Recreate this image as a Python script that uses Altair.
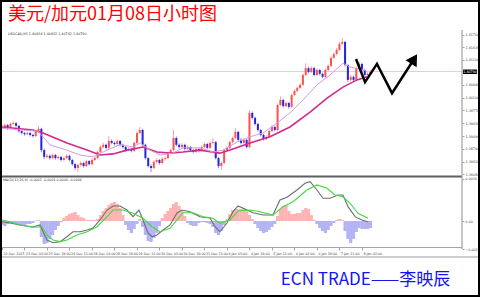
import json
import altair as alt
import pandas as pd

# ---------------- data ----------------
title_text = "美元/加元01月08日小时图"
footer_text = "ECN TRADE——李映辰"
info_main = "USDCAD,H1  1.40834 1.40832 1.40742 1.40790"
info_macd = "MACD(12,26,9) -0.0002 -0.0001 0.0000 -0.0006"

first_open = 1.3930
closes = [
    1.3933, 1.3938, 1.3930, 1.3941, 1.3943, 1.3936, 1.3922, 1.3917, 1.3914, 1.3917,
    1.3912, 1.3909, 1.3920, 1.3928, 1.3872, 1.3854, 1.3857, 1.3851, 1.3859, 1.3851,
    1.3854, 1.3846, 1.3851, 1.3857, 1.3846, 1.3835, 1.3825, 1.3833, 1.3838, 1.3830,
    1.3843, 1.3835, 1.3846, 1.3851, 1.3867, 1.3880, 1.3886, 1.3878, 1.3896, 1.3891,
    1.3888, 1.3896, 1.3886, 1.3880, 1.3872, 1.3875, 1.3870, 1.3891, 1.3917, 1.3925,
    1.3886, 1.3851, 1.3830, 1.3825, 1.3841, 1.3846, 1.3838, 1.3849, 1.3851, 1.3864,
    1.3872, 1.3904, 1.3886, 1.3880, 1.3886, 1.3875, 1.3880, 1.3872, 1.3867, 1.3875,
    1.3870, 1.3880, 1.3888, 1.3878, 1.3891, 1.3893, 1.3851, 1.3830, 1.3838, 1.3872,
    1.3878, 1.3893, 1.3904, 1.3920, 1.3899, 1.3891, 1.3899, 1.3880, 1.3970, 1.3957,
    1.3941, 1.3925, 1.3912, 1.3901, 1.3907, 1.3922, 1.3933, 1.3925, 1.3991, 1.4004,
    1.3988, 1.3996, 1.3986, 1.4017, 1.4028, 1.4036, 1.4044, 1.4070, 1.4088, 1.4078,
    1.4088, 1.4070, 1.4083, 1.4073, 1.4065, 1.4083, 1.4094, 1.4115, 1.4125, 1.4136,
    1.4152, 1.4157, 1.4096, 1.4057, 1.4065, 1.4057, 1.4088, 1.4099, 1.4083, 1.4070,
    1.4073, 1.4078]
highs = [
    1.3938, 1.3942, 1.3941, 1.3945, 1.3949, 1.3946, 1.3938, 1.3925, 1.3920, 1.3921,
    1.3920, 1.3915, 1.3923, 1.3936, 1.3931, 1.3876, 1.3862, 1.3861, 1.3863, 1.3862,
    1.3858, 1.3857, 1.3855, 1.3861, 1.3860, 1.3849, 1.3838, 1.3836, 1.3842, 1.3841,
    1.3847, 1.3846, 1.3850, 1.3855, 1.3871, 1.3884, 1.3891, 1.3889, 1.3909, 1.3900,
    1.3894, 1.3900, 1.3899, 1.3889, 1.3883, 1.3879, 1.3878, 1.3895, 1.3921, 1.3933,
    1.3928, 1.3889, 1.3854, 1.3834, 1.3845, 1.3850, 1.3849, 1.3853, 1.3855, 1.3868,
    1.3876, 1.3925, 1.3908, 1.3890, 1.3890, 1.3889, 1.3884, 1.3883, 1.3875, 1.3879,
    1.3878, 1.3884, 1.3892, 1.3891, 1.3895, 1.3904, 1.3896, 1.3854, 1.3842, 1.3876,
    1.3882, 1.3897, 1.3908, 1.3930, 1.3923, 1.3903, 1.3903, 1.3902, 1.3978, 1.3974,
    1.3960, 1.3944, 1.3928, 1.3915, 1.3911, 1.3926, 1.3938, 1.3936, 1.3995, 1.4014,
    1.4007, 1.4000, 1.3999, 1.4021, 1.4032, 1.4040, 1.4048, 1.4074, 1.4101, 1.4092,
    1.4093, 1.4091, 1.4087, 1.4086, 1.4076, 1.4087, 1.4098, 1.4119, 1.4130, 1.4141,
    1.4157, 1.4167, 1.4160, 1.4099, 1.4070, 1.4068, 1.4092, 1.4104, 1.4102, 1.4086,
    1.4077, 1.4082]
lows = [
    1.3926, 1.3930, 1.3925, 1.3928, 1.3938, 1.3933, 1.3918, 1.3913, 1.3910, 1.3911,
    1.3908, 1.3905, 1.3906, 1.3917, 1.3866, 1.3848, 1.3850, 1.3847, 1.3848, 1.3847,
    1.3847, 1.3842, 1.3843, 1.3848, 1.3842, 1.3831, 1.3819, 1.3814, 1.3829, 1.3826,
    1.3827, 1.3831, 1.3832, 1.3843, 1.3848, 1.3864, 1.3877, 1.3874, 1.3875, 1.3887,
    1.3884, 1.3885, 1.3882, 1.3876, 1.3868, 1.3869, 1.3866, 1.3867, 1.3888, 1.3914,
    1.3882, 1.3847, 1.3826, 1.3814, 1.3822, 1.3837, 1.3834, 1.3835, 1.3845, 1.3848,
    1.3861, 1.3869, 1.3882, 1.3876, 1.3877, 1.3871, 1.3872, 1.3868, 1.3863, 1.3864,
    1.3866, 1.3867, 1.3877, 1.3874, 1.3875, 1.3887, 1.3847, 1.3825, 1.3820, 1.3835,
    1.3868, 1.3875, 1.3890, 1.3901, 1.3895, 1.3887, 1.3888, 1.3876, 1.3877, 1.3953,
    1.3937, 1.3921, 1.3908, 1.3897, 1.3898, 1.3904, 1.3919, 1.3921, 1.3922, 1.3988,
    1.3984, 1.3985, 1.3981, 1.3983, 1.4014, 1.4025, 1.4033, 1.4041, 1.4067, 1.4074,
    1.4075, 1.4066, 1.4067, 1.4069, 1.4061, 1.4062, 1.4080, 1.4091, 1.4112, 1.4122,
    1.4133, 1.4149, 1.4092, 1.4052, 1.4053, 1.4053, 1.4054, 1.4085, 1.4079, 1.4066,
    1.4067, 1.4070]
bar_hours = list(range(0, 2 * len(closes), 2))   # hour index of each candle

time_labels = ["22 Dec 2015", "23 Dec 03:00", "23 Dec 19:00", "24 Dec 11:00",
               "28 Dec 03:00", "28 Dec 19:00", "29 Dec 11:00", "30 Dec 03:00",
               "30 Dec 19:00", "31 Dec 11:00", "4 Jan 03:00", "4 Jan 19:00",
               "5 Jan 11:00", "6 Jan 03:00", "6 Jan 19:00", "7 Jan 11:00",
               "8 Jan 03:00"]
time_ticks = list(range(0, 16 * len(time_labels), 16))

slow_h = [0, 22, 29.2, 46.2, 60.5, 69.7, 79, 88.9, 100.3, 110.2, 119.5, 128.7,
          140.8, 155, 162.2, 176.4, 190.6, 204.8, 219.1, 231.2, 242.5, 252.5, 259.6]
slow_p = [1.3933, 1.3925, 1.3917, 1.3891, 1.3872, 1.3859, 1.3862, 1.3872, 1.3880,
          1.3867, 1.3864, 1.3867, 1.3872, 1.3864, 1.3872, 1.3891, 1.3907, 1.3933,
          1.3972, 1.4009, 1.4038, 1.4057, 1.4065]
fast_h = [0, 12.8, 25.6, 34.1, 46.2, 55.5, 64.7, 74.7, 83.9, 93.2, 98.2, 105.3,
          112.4, 121.6, 128.7, 140.8, 150.1, 157.2, 167.1, 176.4, 185.6, 195.6,
          204.8, 214.1, 224, 233.3, 242.5, 247.5, 256.8, 259.6]
fast_p = [1.3930, 1.3925, 1.3922, 1.3886, 1.3872, 1.3859, 1.3854, 1.3872, 1.3886,
          1.3880, 1.3891, 1.3872, 1.3859, 1.3864, 1.3878, 1.3878, 1.3867, 1.3872,
          1.3893, 1.3907, 1.3917, 1.3943, 1.3970, 1.4004, 1.4044, 1.4070, 1.4101,
          1.4091, 1.4083, 1.4080]

current_price = 1.40790
price_ticks = [1.41760, 1.41430, 1.41100, 1.40440, 1.40100, 1.39770, 1.39430,
               1.39090, 1.38760, 1.38410, 1.38080]

forecast_h = [251.8, 258.2, 266.7, 277.4, 293.1]
forecast_p = [1.4112, 1.4051, 1.4099, 1.4022, 1.4112]

hist = [
    -0.00034, -0.00043, -0.00026, -0.00017, -0.00017, -0.00026, -0.00034, -0.00034, -0.00034, -0.00026,
    -0.00026, -0.00017, 0.00004, 0.00009, -0.00137, -0.00197, -0.00189, -0.00154, -0.00120, -0.00077,
    -0.00043, -0.00009, 0.00026, 0.00043, 0.00060, 0.00069, 0.00077, 0.00051, 0.00034, 0.00026,
    0.00009, 0.00009, 0.00009, 0.00009, 0.00017, 0.00051, 0.00086, 0.00111, 0.00137, 0.00154,
    0.00163, 0.00146, 0.00111, 0.00051, -0.00034, -0.00077, -0.00103, -0.00069, -0.00026, 0.00017,
    -0.00051, -0.00120, -0.00171, -0.00180, -0.00146, -0.00103, -0.00043, 0.00026, 0.00060, 0.00086,
    0.00111, 0.00146, 0.00163, 0.00129, 0.00086, 0.00043, -0.00017, -0.00034, -0.00043, -0.00043,
    -0.00017, -0.00009, -0.00009, -0.00017, -0.00026, -0.00051, -0.00103, -0.00120, -0.00086, -0.00034,
    0.00017, 0.00060, 0.00094, 0.00103, 0.00103, 0.00103, 0.00111, 0.00086, 0.00051, 0.00017,
    -0.00026, -0.00060, -0.00086, -0.00103, -0.00094, -0.00077, -0.00051, -0.00026, 0.00043, 0.00103,
    0.00129, 0.00137, 0.00086, 0.00060, 0.00060, 0.00069, 0.00069, 0.00094, 0.00111, 0.00103,
    0.00051, 0.00009, -0.00026, -0.00060, -0.00086, -0.00103, -0.00077, -0.00043, -0.00017, 0.00009,
    0.00017, 0.00009, -0.00086, -0.00154, -0.00189, -0.00154, -0.00094, -0.00060, -0.00069, -0.00069,
    -0.00069, -0.00060]

macd_h = [0, 5.7, 12.8, 22, 27, 29.2, 32, 36.3, 41.3, 46.2, 50.5, 55.5, 60.5, 64.7,
          69.7, 74.7, 79, 84, 88.9, 93.2, 97.4, 100.3, 103.8, 106.7, 110.2, 114.5,
          119.5, 124.5, 128, 133.7, 140.8, 147.9, 151.5, 155, 160, 164.3, 167.9,
          174.3, 178.5, 185.6, 192.7, 197.7, 202.7, 209.8, 215.5, 219.1, 224, 228.3,
          233.3, 239, 242.5, 246.1, 251.1, 256, 260.3]
macd_v = [-0.00006, -0.00017, -0.00034, -0.00051, -0.00034, -0.00092, -0.00163,
          -0.00186, -0.00177, -0.00135, -0.00092, -0.00092, -0.00077, -0.00060,
          0.00009, 0.00094, 0.00129, 0.00129, 0.00094, 0.00037, 0.00094, 0.00009,
          -0.00103, -0.00135, -0.00120, -0.00077, -0.00034, 0.00069, 0.00094,
          0.00080, 0.00037, 0.00026, -0.00049, -0.00092, -0.00017, 0.00080, 0.00129,
          0.00094, 0.00071, 0.00051, 0.00051, 0.00180, 0.00203, 0.00266, 0.00323,
          0.00337, 0.00266, 0.00195, 0.00195, 0.00223, 0.00223, 0.00123, 0.00037,
          0.00009, -0.00006]
signal_h = [0, 5.7, 12.8, 22, 28.4, 32, 36.3, 41.3, 46.2, 53.3, 60.5, 67.6, 74.7,
            79, 86.1, 93.2, 100.3, 106.7, 112.4, 119.5, 124.5, 128.7, 135.8, 143,
            150.1, 155, 162.2, 167.9, 176.4, 183.5, 192.7, 199.9, 207, 216.9, 224,
            231.2, 236.8, 242.5, 247.5, 253.2, 260.3]
signal_v = [0.00009, -0.00006, -0.00034, -0.00054, -0.00049, -0.00120, -0.00163,
            -0.00177, -0.00163, -0.00120, -0.00092, -0.00049, 0.00037, 0.00094,
            0.00094, 0.00066, 0.00023, -0.00049, -0.00092, -0.00063, 0.00009,
            0.00071, 0.00071, 0.00037, 0.00023, -0.00020, 0.00009, 0.00086, 0.00094,
            0.00080, 0.00051, 0.00123, 0.00165, 0.00266, 0.00309, 0.00280, 0.00223,
            0.00208, 0.00152, 0.00066, 0.00023]
macd_ticks = [0.0036, 0.0, -0.0024]

# ---------------- scales / frame (in data units) ----------------
H_DOMAIN = [-1.4225, 339.97]
P_DOMAIN = [1.34851, 1.42674]
M_DOMAIN = [-0.006513, 0.018940]
panel_right_h = 327.2
main_top_p = 1.41884
main_bottom_p = 1.38025
macd_bottom_p = 1.36155
vline_bottom_p = 1.36116
axis_bottom_p = 1.35905
box_h = [327.9, 337.9]
box_p = [1.40725, 1.40843]
info_main_at = (4.3, 1.41778)
info_macd_at = (0.7, 0.00351)

xs = alt.Scale(domain=H_DOMAIN, nice=False, zero=False)
ps = alt.Scale(domain=P_DOMAIN, nice=False, zero=False)
ms = alt.Scale(domain=M_DOMAIN, nice=False, zero=False)

SMALL = 3.3
label_expr = json.dumps(time_labels) + "[round(datum.value / 16)]"
x_axis = alt.Axis(
    values=time_ticks, labelExpr=label_expr, orient="bottom", offset=-50,
    domain=False, grid=False, ticks=True, tickSize=3, tickColor="#8c8c8c",
    tickWidth=0.8, labelFontSize=SMALL, labelColor="#444444", labelAlign="left",
    labelBaseline="top", labelPadding=1, labelOffset=1, labelFlush=False,
    labelOverlap=False, labelBound=False,
    title=footer_text, titleFont="Noto Sans CJK SC", titleFontSize=17,
    titleFontWeight="normal", titleColor="#1414f0", titleX=365, titleY=32,
    titleAlign="center", titleBaseline="middle")
p_axis = alt.Axis(
    orient="right", offset=-18, values=price_ticks, format=".5f", domain=False,
    grid=False, ticks=True, tickSize=2, tickColor="#8c8c8c", tickWidth=0.8,
    labelFontSize=SMALL, labelColor="#444444", labelPadding=1, labelAlign="left",
    labelBaseline="middle", labelFlush=False, labelOverlap=False, title=None)
m_axis = alt.Axis(
    orient="right", offset=-18, values=macd_ticks,
    labelExpr="datum.value == 0 ? '0.00' : format(datum.value, '.4f')",
    domain=False, grid=False, ticks=True, tickSize=2, tickColor="#8c8c8c",
    tickWidth=0.8, labelFontSize=SMALL, labelColor="#444444", labelPadding=1,
    labelAlign="left", labelBaseline="middle", labelFlush=False,
    labelOverlap=False, title=None)


def X(f):
    return alt.X(f, type="quantitative", scale=xs, axis=x_axis)


def PY(f):
    return alt.Y(f, type="quantitative", scale=ps, axis=p_axis)


def MY(f):
    return alt.Y(f, type="quantitative", scale=ms, axis=m_axis)


# ---------------- price panel ----------------
opens = [first_open] + closes[:-1]
cdf = pd.DataFrame({"h": bar_hours, "open": opens, "close": closes,
                    "high": highs, "low": lows})
up = "datum.close >= datum.open"

hline = alt.Chart(pd.DataFrame({"h1": [H_DOMAIN[0]], "h2": [panel_right_h],
                                "p": [current_price]})).mark_rule(
    color="#ffc6c6", strokeWidth=1).encode(x=X("h1"), x2="h2", y=PY("p"))

sep = alt.Chart(pd.DataFrame({"h1": [H_DOMAIN[0]], "h2": [panel_right_h],
                              "p": [main_bottom_p]})).mark_rule(
    color="#5f5f5f", strokeWidth=2).encode(x=X("h1"), x2="h2", y=PY("p"))
macd_bottom = alt.Chart(pd.DataFrame({"h1": [H_DOMAIN[0]], "h2": [panel_right_h],
                                      "p": [macd_bottom_p]})).mark_rule(
    color="#a6a6a6", strokeWidth=1).encode(x=X("h1"), x2="h2", y=PY("p"))
axis_bottom = alt.Chart(pd.DataFrame({"h1": [H_DOMAIN[0]], "h2": [H_DOMAIN[1]],
                                      "p": [axis_bottom_p]})).mark_rule(
    color="#9c9c9c", strokeWidth=1).encode(x=X("h1"), x2="h2", y=PY("p"))
vline = alt.Chart(pd.DataFrame({"h": [panel_right_h], "p1": [main_top_p],
                                "p2": [vline_bottom_p]})).mark_rule(
    color="#a8a8a8", strokeWidth=1.3).encode(x=X("h"), y=PY("p1"), y2="p2")
outer = alt.Chart(pd.DataFrame({"h1": [H_DOMAIN[0]], "h2": [H_DOMAIN[1]],
                                "p1": [P_DOMAIN[0]], "p2": [P_DOMAIN[1]]})).mark_rect(
    fillOpacity=0, stroke="black", strokeWidth=4).encode(
    x=X("h1"), x2="h2", y=PY("p1"), y2="p2")

wicks = alt.Chart(cdf).mark_rule(strokeWidth=1).encode(
    x=X("h"), y=PY("low"), y2="high",
    color=alt.condition(up, alt.value("#ff9e9e"), alt.value("#8c8cff")))
bodies = alt.Chart(cdf).mark_rule(strokeWidth=2).encode(
    x=X("h"), y=PY("open"), y2="close",
    color=alt.condition(up, alt.value("#ff5050"), alt.value("#2323e0")))

slow = alt.Chart(pd.DataFrame({"h": slow_h, "p": slow_p})).mark_line(
    color="#d42a8c", strokeWidth=1.6).encode(x=X("h"), y=PY("p"))
fast = alt.Chart(pd.DataFrame({"h": fast_h, "p": fast_p})).mark_line(
    color="#d49be8", strokeWidth=1).encode(x=X("h"), y=PY("p"))

arrow = alt.Chart(pd.DataFrame({"h": forecast_h, "p": forecast_p})).mark_line(
    color="black", strokeWidth=2.5, strokeJoin="miter").encode(x=X("h"), y=PY("p"))
head = alt.Chart(pd.DataFrame({"h": forecast_h[-1:], "p": forecast_p[-1:]})).mark_point(
    shape="triangle-up", filled=True, size=170, angle=32, color="black",
    opacity=1).encode(x=X("h"), y=PY("p"))

box = alt.Chart(pd.DataFrame({"h1": [box_h[0]], "h2": [box_h[1]],
                              "p1": [box_p[0]], "p2": [box_p[1]]})).mark_rect(
    color="black").encode(x=X("h1"), x2="h2", y=PY("p1"), y2="p2")
box_text = alt.Chart(pd.DataFrame({"h": [(box_h[0] + box_h[1]) / 2],
                                   "p": [current_price],
                                   "t": [f"{current_price:.5f}"]})).mark_text(
    color="white", fontSize=SMALL, align="center", baseline="middle").encode(
    x=X("h"), y=PY("p"), text="t:N")
info1 = alt.Chart(pd.DataFrame({"h": [info_main_at[0]], "p": [info_main_at[1]],
                                "t": [info_main]})).mark_text(
    color="#333333", fontSize=SMALL, align="left", baseline="middle").encode(
    x=X("h"), y=PY("p"), text="t:N")

price_panel = alt.layer(hline, sep, macd_bottom, axis_bottom, vline, wicks, bodies,
                        slow, fast, arrow, head, box, box_text, info1, outer)

# ---------------- MACD panel ----------------
hdf = pd.DataFrame({"h": bar_hours, "v": hist, "zero": [0.0] * len(hist)})
bars = alt.Chart(hdf).mark_rule(strokeWidth=3.2).encode(
    x=X("h"), y=MY("v"), y2="zero",
    color=alt.condition("datum.v >= 0", alt.value("#ffb4b4"), alt.value("#b4b4f4")))
macd_line = alt.Chart(pd.DataFrame({"h": macd_h, "v": macd_v})).mark_line(
    color="#6e6e6e", strokeWidth=1.1).encode(x=X("h"), y=MY("v"))
signal_line = alt.Chart(pd.DataFrame({"h": signal_h, "v": signal_v})).mark_line(
    color="#44d844", strokeWidth=1.1).encode(x=X("h"), y=MY("v"))
info2 = alt.Chart(pd.DataFrame({"h": [info_macd_at[0]], "v": [info_macd_at[1]],
                                "t": [info_macd]})).mark_text(
    color="#333333", fontSize=SMALL, align="left", baseline="middle").encode(
    x=X("h"), y=MY("v"), text="t:N")

macd_panel = alt.layer(bars, macd_line, signal_line, info2)

chart = alt.layer(macd_panel, price_panel).resolve_scale(y="independent").properties(
    width=480, height=297, padding=0,
    autosize=alt.AutoSizeParams(type="none"),
    background="white",
    title=alt.TitleParams(
        text=title_text, anchor="start", frame="group", orient="top", offset=0,
        dx=8, dy=40, font="Noto Sans CJK SC", fontSize=18, fontWeight="normal",
        color="#ff0000", baseline="alphabetic"),
).configure_view(stroke=None).configure(font="DejaVu Sans")

chart.save("out.html", embed_options={"renderer": "svg", "actions": False})
